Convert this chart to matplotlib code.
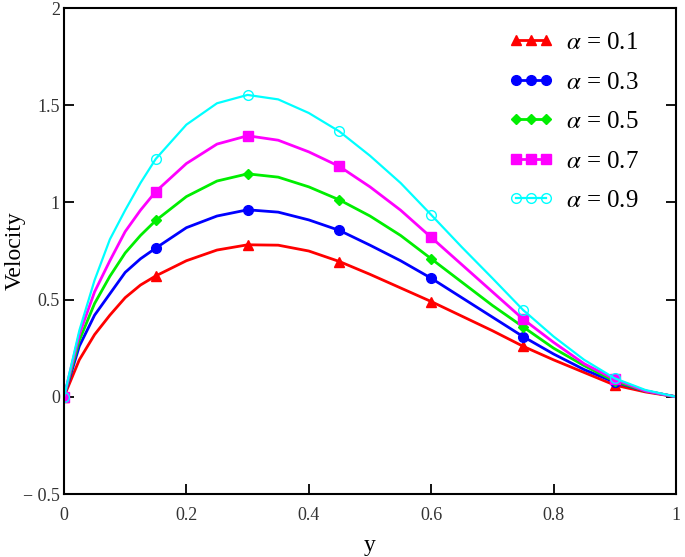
import numpy as np
import matplotlib.pyplot as plt
from matplotlib.ticker import FuncFormatter

plt.rcParams['font.family'] = ['Liberation Serif', 'DejaVu Serif']
plt.rcParams['mathtext.fontset'] = 'stix'

# Velocity profiles
y = [0, 0.025, 0.05, 0.075, 0.1, 0.125, 0.15, 0.2, 0.25, 0.3, 0.35, 0.4,
     0.45, 0.5, 0.55, 0.6, 0.65, 0.7, 0.75, 0.8, 0.85, 0.9, 0.95, 1.0]
v01 = [0, 0.19, 0.32, 0.42, 0.51, 0.575, 0.622, 0.70, 0.755, 0.782, 0.78,
       0.75, 0.696, 0.63, 0.56, 0.49, 0.415, 0.34, 0.26, 0.19, 0.125,
       0.06, 0.025, 0]
v03 = [0, 0.26, 0.42, 0.53, 0.64, 0.71, 0.765, 0.87, 0.93, 0.962, 0.95,
       0.91, 0.856, 0.78, 0.70, 0.61, 0.51, 0.41, 0.31, 0.22, 0.14,
       0.075, 0.03, 0]
v05 = [0, 0.29, 0.48, 0.62, 0.74, 0.83, 0.907, 1.03, 1.11, 1.147, 1.13,
       1.08, 1.013, 0.93, 0.83, 0.71, 0.59, 0.47, 0.36, 0.25, 0.16,
       0.08, 0.03, 0]
v07 = [0, 0.32, 0.54, 0.70, 0.85, 0.96, 1.056, 1.20, 1.30, 1.343, 1.32,
       1.26, 1.185, 1.08, 0.96, 0.82, 0.68, 0.54, 0.40, 0.28, 0.17,
       0.09, 0.03, 0]
v09 = [0, 0.34, 0.60, 0.81, 0.96, 1.10, 1.224, 1.40, 1.51, 1.553, 1.53,
       1.46, 1.365, 1.24, 1.10, 0.936, 0.77, 0.61, 0.447, 0.31, 0.19,
       0.095, 0.035, 0]
alphas = ['0.1', '0.3', '0.5', '0.7', '0.9']
mark_idx = [0, 6, 9, 12, 15, 18, 21]

series = [v01, v03, v05, v07, v09]
colors = ['#ff0000', '#0000ff', '#00ee00', '#ff00ff', '#00ffff']
markers = ['^', 'o', 'D', 's', 'o']

fig = plt.figure(figsize=(6.85, 5.57), dpi=100)
ax = fig.add_axes([0.0934, 0.1131, 0.8935, 0.8725])

for vals, c, m, a in zip(series, colors, markers, alphas):
    kw = dict(color=c, marker=m, markevery=mark_idx, lw=2.0, ms=7,
              label=r'$\alpha$ = ' + a)
    if a == '0.9':
        kw.update(mfc='none', mew=1.0, lw=1.6)
    if m == 'D':
        kw.update(ms=5)
    ax.plot(y, vals, **kw)

ax.set_xlim(0, 1)
ax.set_ylim(-0.5, 2)
ax.set_xticks([0, 0.2, 0.4, 0.6, 0.8, 1])
ax.set_yticks([-0.5, 0, 0.5, 1, 1.5, 2])

def fmt(v, pos):
    if v < 0:
        return '\u2212 ' + f'{abs(v):g}'
    return f'{v:g}'

ax.xaxis.set_major_formatter(FuncFormatter(fmt))
ax.yaxis.set_major_formatter(FuncFormatter(fmt))
ax.tick_params(direction='in', length=7, width=1.3, labelsize=13,
               right=True, top=False, pad=3, colors='black',
               labelcolor='#333333')
ax.tick_params(axis='x', pad=9)
for s in ax.spines.values():
    s.set_linewidth(1.5)

ax.set_xlabel('y', fontsize=17, labelpad=8)
ax.set_ylabel('Velocity', fontsize=17)
ax.yaxis.set_label_coords(-0.062, 0.5)

ax.legend(loc='upper right', frameon=False, numpoints=3, fontsize=18,
          handlelength=1.8, handletextpad=0.5, labelspacing=0.68,
          borderaxespad=0.0, bbox_to_anchor=(0.955, 0.972))

fig.savefig('out.png', dpi=100)
